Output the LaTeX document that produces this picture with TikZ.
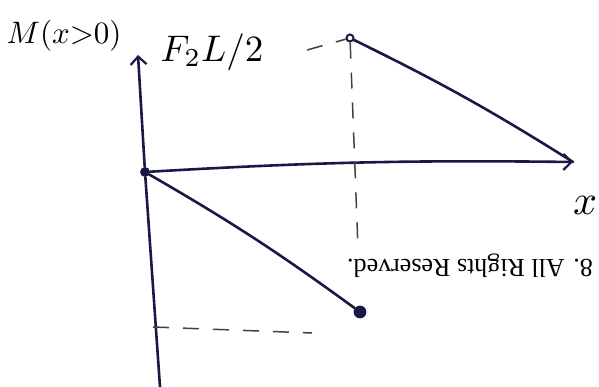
\documentclass[tikz,border=0pt]{standalone}
\usepackage{fontspec}
\newfontfamily\printfont{Liberation Serif}
\usetikzlibrary{arrows.meta,positioning}
\definecolor{ink}{rgb}{0.10,0.10,0.28}

\begin{document}
\begin{tikzpicture}[
            x=1pt, y=-1pt,
            ax/.style={draw=ink,line width=2.6pt,line cap=round},
            barb/.style={-{Straight Barb[length=8pt,width=16pt,line width=2.2pt]}},
            dsh/.style={draw=black!75,line width=1.5pt,dash pattern=on 16pt off 14pt},
            dot/.style={circle,fill=ink,inner sep=3.5pt},
            odot/.style={circle,draw=ink,line width=2pt,inner sep=2.5pt},
            lbl/.style={text=black,inner sep=0pt}
        ]

        \useasboundingbox (0,0) rectangle (599,387);

        % points of the sketch
        \node[dot] (O) at (145,172) {};
        \node[odot] (A) at (350,38) {};
        \node[dot,inner sep=4.5pt] (C) at (360,312) {};
        \coordinate (top) at (138,55);
        \coordinate (bot) at (160,387);
        \coordinate (B) at (573,162);

        % axes
        \draw[ax,barb] (bot) -- (O) -- (top);
        \draw[ax,barb] (O) to[bend left=2] (B);

        % lines
        \draw[ax] (A) to[bend left=3] (B);
        \draw[ax] (O) to[bend left=3] (C);

        % guides
        \draw[dsh] (307,50) -- (A);
        \draw[dsh] (A) -- (358,248);
        \draw[dsh] (153,327) -- (312,333);

        % labels
        \node[lbl] (M) at (64,36) {\scalebox{3.1}{$M(x{>}0)$}};
        \node[lbl] (F) at (212,52) {\scalebox{3.7}{$F_2L/2$}};
        \node[lbl] (xl) at (585,205) {\scalebox{4.2}{$x$}};
        \node[lbl,rotate=180,font=\printfont\fontsize{26}{26}\selectfont] (rr) at (470,266) {8. All Rights Reserved.};

    \end{tikzpicture}
\end{document}
